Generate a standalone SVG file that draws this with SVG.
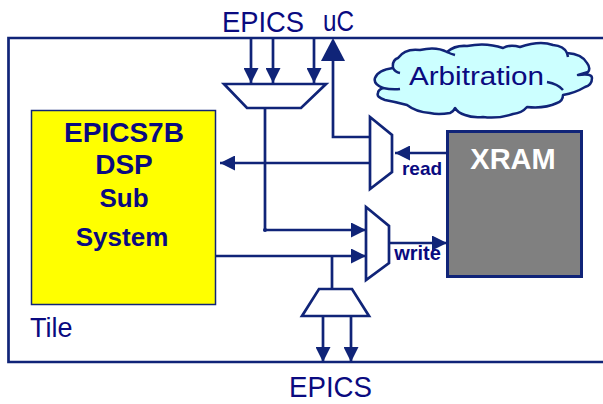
<svg xmlns="http://www.w3.org/2000/svg" width="603" height="404" viewBox="0 0 603 404">
<style>
.w{fill:none;stroke:#102478;stroke-width:2.700}
.t{fill:#fff;stroke:#102478;stroke-width:2.700;stroke-linejoin:miter}
.c{font-family:"Liberation Sans",Arial,sans-serif;fill:#0a0a80;font-size:30px}
.b{font-family:"Liberation Sans",Arial,sans-serif;font-weight:bold;fill:#0a0a80;text-anchor:middle}
.h{fill:#102478}
</style>
<defs>
<marker id="a" markerUnits="userSpaceOnUse" markerWidth="15" markerHeight="15" refX="15" refY="7.500" orient="auto"><path class="h" d="M0 0L15 7.500L0 15Z"/></marker>
</defs>
<rect width="603" height="404" fill="#fff"/>
<path id="tile-frame" class="w" d="M604 38H8.500V362H604"/>
<g id="connectors">
<path class="w" d="M251 38V83" marker-end="url(#a)"/>
<path class="w" d="M273 38V83" marker-end="url(#a)"/>
<path class="w" d="M314 38V83" marker-end="url(#a)"/>
<path class="w" d="M265 108V230H366" marker-end="url(#a)"/>
<circle class="h" cx="265" cy="230" r="2"/>
<path class="w" d="M216 256H366" marker-end="url(#a)"/>
<path class="w" d="M332 256V289"/>
<path class="w" d="M323 316V362" marker-end="url(#a)"/>
<path class="w" d="M351 316V362" marker-end="url(#a)"/>
<path class="w" d="M370 137H333V60"/>
<path class="h" d="M333 38L345 61H321Z"/>
<path class="w" d="M370 163H220" marker-end="url(#a)"/>
<path class="w" d="M447 153H395" marker-end="url(#a)"/>
<path class="w" d="M389 243H447" marker-end="url(#a)"/>
</g>
<g id="epics-top-label"><text class="c" x="222" y="32" textLength="82" lengthAdjust="spacingAndGlyphs">EPICS</text></g>
<g id="uc-label"><text class="c" x="323" y="31" textLength="31" lengthAdjust="spacingAndGlyphs">uC</text></g>
<g id="epics-bottom-label"><text class="c" x="289" y="397" textLength="83" lengthAdjust="spacingAndGlyphs">EPICS</text></g>
<g id="top-mux"><path class="t" d="M224 84H326L301 108H247Z"/></g>
<g id="read-mux"><path class="t" d="M370 117L392 135V172L370 189Z"/></g>
<g id="write-mux"><path class="t" d="M366 207L389 226V263L366 280Z"/></g>
<g id="bottom-mux"><path class="t" d="M319 289H352L369 316H302Z"/></g>
<g id="dsp">
<rect x="31.500" y="110.500" width="184" height="194" fill="#ff0" stroke="#102478" stroke-width="1.500"/>
<text class="b" font-size="28" x="124" y="141.500">EPICS7B</text>
<text class="b" font-size="28" x="124" y="174">DSP</text>
<text class="b" font-size="26" x="124" y="206.500">Sub</text>
<text class="b" font-size="26" x="122" y="245.500">System</text>
</g>
<g id="tile-label"><text x="30" y="336.500" font-family="Liberation Sans,Arial,sans-serif" font-size="27" fill="#0a0a80">Tile</text></g>
<g id="xram">
<rect x="447.500" y="131.500" width="134" height="145" fill="#808080" stroke="#102478" stroke-width="3"/>
<text class="b" font-size="29" x="513" y="169" style="fill:#fff">XRAM</text>
</g>
<g id="read-label"><text class="b" font-size="19" x="422" y="175">read</text></g>
<g id="write-label"><text class="b" font-size="20" x="417.500" y="260">write</text></g>
<g id="arbitration">
<path d="M375 78Q378 70 393 68Q392 60 398 58Q405 48 420 50Q436 46 447 52Q455 45 467 46Q486 42 503 48Q510 44 520 47Q540 40 553 45Q564 46 567 53Q582 54 587 63Q591 68 588 72L578 75Q592 73 592 78Q592 85 585 87Q575 93 563 95Q563 101 557 103Q544 109 527 107Q522 113 513 114Q498 119 483 117Q472 118 465 115Q458 113 455 108Q453 112 450 113Q438 115 430 113Q416 112 407 105Q396 102 385 100Q376 97 378 93Q378 90 383 88Q373 84 375 78Z" fill="#ccffff" stroke="#102478" stroke-width="2.500" stroke-linejoin="round"/>
<path d="M393 68Q395 72 400 73M383 88Q392 90 400 89M547 82Q558 84 563 90M447 52Q451 54 455 55M567 53L568 57" fill="none" stroke="#102478" stroke-width="2.500"/>
<text class="c" font-size="26" style="font-size:26px" x="409" y="85" textLength="135" lengthAdjust="spacingAndGlyphs">Arbitration</text>
</g>
</svg>
